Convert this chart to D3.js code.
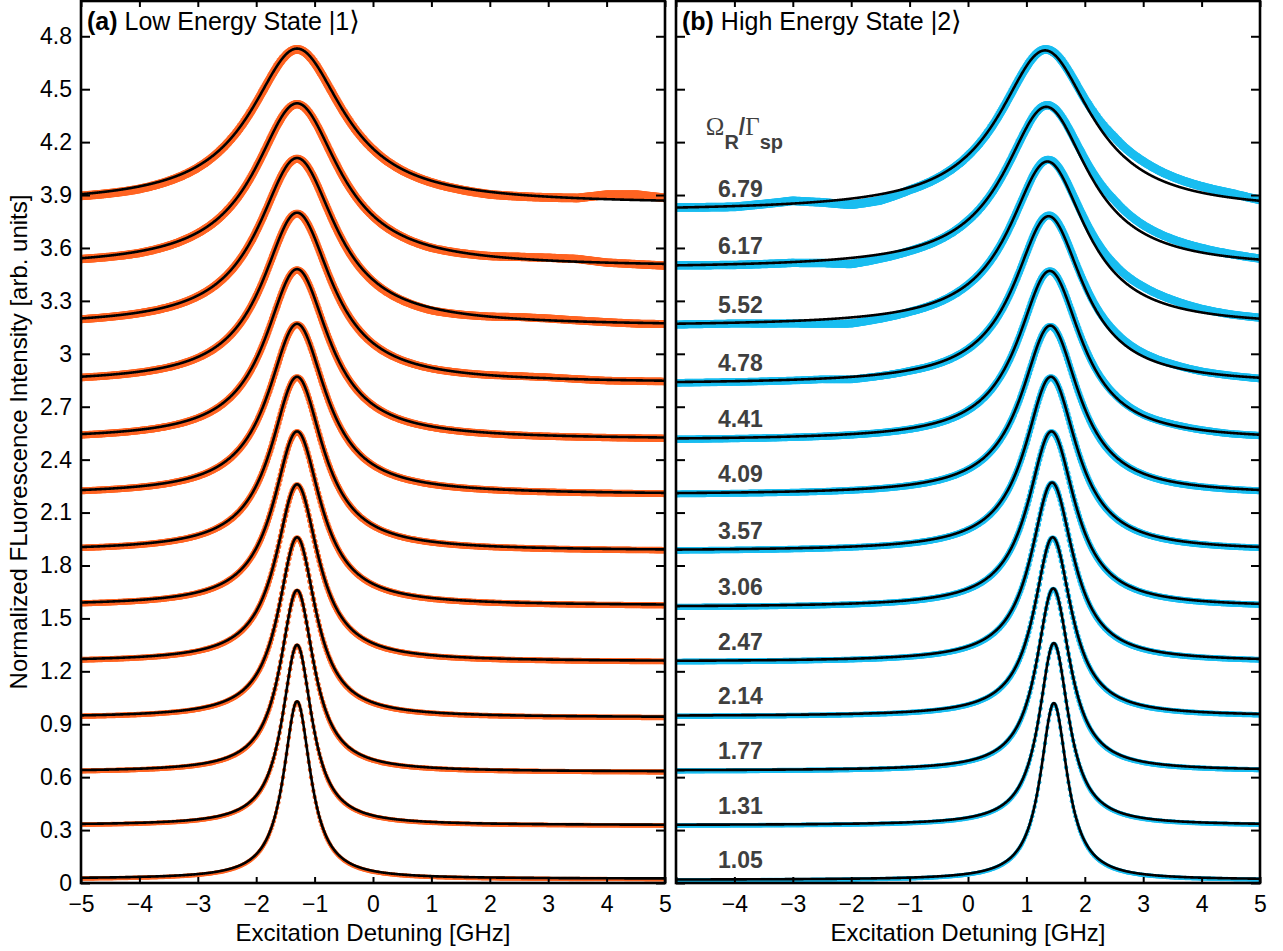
<!DOCTYPE html>
<html>
<head>
<meta charset="utf-8">
<script src="https://cdn.jsdelivr.net/npm/d3@7"></script>
<style>
  body { margin: 0; background: #fff; }
  text { font-family: "Liberation Sans", Arial, Helvetica, sans-serif; }
</style>
</head>
<body>
<svg id="chart" width="1283" height="951"></svg>
<script>
// Rabi frequency ratios, bottom trace to top trace
const ratioLabels = ["1.05","1.31","1.77","2.14","2.47","3.06","3.57","4.09","4.41","4.78","5.52","6.17","6.79"];

// Lorentzian fit parameters, state |1> (GHz / arb. units)
const lowCenter     = [-1.30,-1.30,-1.30,-1.30,-1.30,-1.30,-1.30,-1.30,-1.30,-1.30,-1.30,-1.30,-1.30];
const lowWidth      = [0.28,0.31,0.35,0.39,0.44,0.49,0.54,0.60,0.66,0.72,0.80,0.88,0.97];
const lowPeak       = [1.03,1.35,1.66,1.96,2.26,2.56,2.87,3.17,3.48,3.80,4.11,4.42,4.73];
const lowBackground = [0.024,0.328,0.631,0.939,1.256,1.573,1.884,2.203,2.515,2.835,3.158,3.492,3.848];

// Lorentzian fit parameters, state |2>
const highCenter     = [1.47,1.47,1.46,1.45,1.44,1.43,1.42,1.41,1.40,1.38,1.36,1.34,1.32];
const highWidth      = [0.28,0.31,0.35,0.39,0.44,0.49,0.54,0.60,0.66,0.72,0.80,0.88,0.97];
const highPeak       = [1.02,1.36,1.67,1.96,2.27,2.56,2.87,3.16,3.47,3.78,4.09,4.40,4.72];
const highBackground = [0.018,0.328,0.637,0.946,1.255,1.564,1.883,2.202,2.510,2.828,3.156,3.484,3.808];

// measured-minus-fit deviations of the noisier traces, on a coarse detuning grid
const residGrid = [-5,-4,-3,-2.5,-2,-1.5,-1,0,1,2,2.5,3,3.5,4,4.5,5];
const lowResid = {
  12: [-0.005,-0.01,-0.005,0,0,0,0,0,-0.005,-0.01,-0.005,0,0.005,0.03,0.035,0.02],
  11: [0,-0.005,0,0,0,0,0,0,-0.005,0.005,0.015,0.02,0.02,0.005,0,-0.005],
  10: [0,0,0,0,0,0,0,-0.005,-0.01,0.005,0.015,0.015,0.01,0.005,0,0],
  9:  [0,0,0,0,0,0,0,0,0,0.005,0.01,0.01,0.005,0,0,0]
};
const highResid = {
  12: [0.005,0,0.02,0,-0.03,-0.03,-0.01,0,0,0.03,0.06,0.06,0.05,0.04,0.03,0.01],
  11: [0.005,0,0,-0.01,-0.03,-0.02,-0.01,0,0,0.04,0.06,0.05,0.04,0.03,0.02,0.01],
  10: [0,0,-0.01,-0.02,-0.03,-0.02,-0.01,0,0,0.04,0.05,0.05,0.04,0.025,0.015,0.01],
  9:  [0,0,0,0,-0.01,-0.005,0,0,0,0.025,0.03,0.025,0.02,0.01,0.005,0],
  8:  [0,0,0,0,0,0,0,0,0,0.01,0.015,0.01,0.01,0.005,0,0]
};

// axis ticks
const xTicks = [-5,-4,-3,-2,-1,0,1,2,3,4,5];
const xTickLabels = ["\u22125","\u22124","\u22123","\u22122","\u22121","0","1","2","3","4","5"];
const yTicks = [0,0.3,0.6,0.9,1.2,1.5,1.8,2.1,2.4,2.7,3,3.3,3.6,3.9,4.2,4.5,4.8];
const yTickLabels = ["0","0.3","0.6","0.9","1.2","1.5","1.8","2.1","2.4","2.7","3","3.3","3.6","3.9","4.2","4.5","4.8"];

const svg = d3.select("#chart");
const plotTop = 1, plotBottom = 883;
const y = d3.scaleLinear().domain([0, 5]).range([plotBottom, plotTop]);

const panels = [
  { id: "low", left: 81, right: 665, tag: "(a)", title: " Low Energy State |1", ket: "\u27E9",
    center: lowCenter, width: lowWidth, peak: lowPeak, bg: lowBackground, resid: lowResid,
    color: "#ff6422", showY: true, hideFirstX: false },
  { id: "high", left: 676, right: 1260, tag: "(b)", title: " High Energy State |2", ket: "\u27E9",
    center: highCenter, width: highWidth, peak: highPeak, bg: highBackground, resid: highResid,
    color: "#19bdf0", showY: false, hideFirstX: true }
];

const samples = d3.range(-5, 5.0001, 0.02);
const radius = d3.scaleLinear().domain([0, 12]).range([2.2, 4.4]);

function lorentz(p, i, xv) {
  const d = (xv - p.center[i]) / p.width[i];
  return p.bg[i] + (p.peak[i] - p.bg[i]) / (1 + d * d);
}

panels.forEach(p => {
  const x = d3.scaleLinear().domain([-5, 5]).range([p.left, p.right]);
  const g = svg.append("g").attr("class", "panel-" + p.id);

  g.append("clipPath").attr("id", "clip-" + p.id)
    .append("rect").attr("x", p.left).attr("y", plotTop)
    .attr("width", p.right - p.left).attr("height", plotBottom - plotTop);

  const plot = g.append("g").attr("clip-path", `url(#clip-${p.id})`);

  // measured traces
  const dataLayer = plot.append("g").attr("fill", p.color);
  ratioLabels.forEach((_, i) => {
    const dev = p.resid[i] ? d3.scaleLinear().domain(residGrid).range(p.resid[i]) : () => 0;
    dataLayer.append("g").selectAll("circle")
      .data(samples)
      .join("circle")
      .attr("cx", d => x(d))
      .attr("cy", d => y(lorentz(p, i, d) + dev(d)) + 0.8)
      .attr("r", radius(i));
  });

  // fitted curves
  const line = d3.line().x(d => x(d[0])).y(d => y(d[1]));
  const fine = d3.range(-5, 5.0001, 0.005);
  ratioLabels.forEach((_, i) => {
    plot.append("path")
      .attr("d", line(fine.map(v => [v, lorentz(p, i, v)])))
      .attr("fill", "none").attr("stroke", "#000").attr("stroke-width", 2.6);
  });

  // axes, ticks pointing inward on all four sides
  g.append("g").attr("transform", `translate(0,${plotBottom})`)
    .call(d3.axisBottom(x).tickValues(xTicks).tickSizeInner(-6).tickSizeOuter(0).tickPadding(13)
      .tickFormat((d, k) => (p.hideFirstX && k === 0) ? "" : xTickLabels[k]));
  g.append("g").attr("transform", `translate(0,${plotTop})`)
    .call(d3.axisTop(x).tickValues(xTicks).tickSizeInner(-6).tickSizeOuter(0).tickFormat(""));
  g.append("g").attr("transform", `translate(${p.left},0)`)
    .call(d3.axisLeft(y).tickValues(yTicks).tickSizeInner(-9).tickSizeOuter(0).tickPadding(9)
      .tickFormat((d, k) => p.showY ? yTickLabels[k] : ""));
  g.append("g").attr("transform", `translate(${p.right},0)`)
    .call(d3.axisRight(y).tickValues(yTicks).tickSizeInner(-9).tickSizeOuter(0).tickFormat(""));

  g.selectAll(".domain").remove();
  g.selectAll(".tick line").attr("stroke", "#000").attr("stroke-width", 2);
  g.selectAll(".tick text").attr("fill", "#000").style("font-size", "23px")
    .style("font-family", "'Liberation Sans', Arial, sans-serif");

  g.append("rect").attr("x", p.left).attr("y", plotTop)
    .attr("width", p.right - p.left).attr("height", plotBottom - plotTop)
    .attr("fill", "none").attr("stroke", "#000").attr("stroke-width", 2.6);

  // panel title
  const t = g.append("text").attr("x", p.left + 6).attr("y", 30).style("font-size", "25px").attr("fill", "#000");
  t.append("tspan").attr("font-weight", "bold").text(p.tag);
  t.append("tspan").text(p.title);
  t.append("tspan").style("font-family", "'DejaVu Sans', sans-serif").style("font-size", "27px").text(p.ket);

  // x axis title
  g.append("text").attr("x", (p.left + p.right) / 2).attr("y", 941)
    .attr("text-anchor", "middle").style("font-size", "24px").text("Excitation Detuning [GHz]");
});

// y axis title
svg.append("text")
  .attr("transform", `translate(27,${(plotTop + plotBottom) / 2}) rotate(-90)`)
  .attr("text-anchor", "middle").style("font-size", "24px")
  .text("Normalized FLuorescence Intensity [arb. units]");

// Rabi ratio labels inside panel (b)
{
  const p = panels[1];
  const x = d3.scaleLinear().domain([-5, 5]).range([p.left, p.right]);
  const lab = svg.append("g").attr("fill", "#3f3f3f");
  ratioLabels.forEach((s, i) => {
    lab.append("text")
      .attr("x", x(-4.28))
      .attr("y", y(lorentz(p, i, -5)) - 11)
      .style("font-size", "23px").attr("font-weight", "bold")
      .text(s);
  });
  const serif = "'Liberation Serif', 'DejaVu Serif', serif";
  const head = lab.append("text").attr("x", x(-4.49)).attr("y", y(4.24)).style("font-size", "25px");
  head.append("tspan").style("font-family", serif).text("\u03A9");
  head.append("tspan").attr("font-weight", "bold").attr("dy", 14).style("font-size", "20px").text("R");
  head.append("tspan").attr("font-weight", "bold").attr("dy", -14).style("font-size", "23px").text("/");
  head.append("tspan").style("font-family", serif).text("\u0393");
  head.append("tspan").attr("font-weight", "bold").attr("dy", 14).style("font-size", "20px").text("sp");
}
</script>
</body>
</html>
